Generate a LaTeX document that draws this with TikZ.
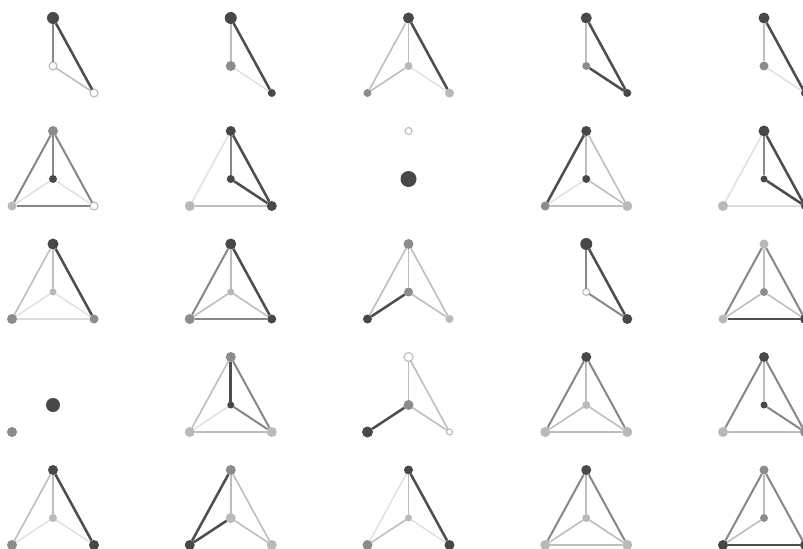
\documentclass[tikz,border=0pt]{standalone}
\usepackage{tikz}
\usetikzlibrary{calc}
\definecolor{vdark}{RGB}{72,72,72}
\definecolor{vmid}{RGB}{140,140,140}
\definecolor{vlight}{RGB}{185,185,185}
\definecolor{edgedark}{RGB}{78,78,78}
\definecolor{edgemid}{RGB}{135,135,135}
\definecolor{edgelight}{RGB}{190,190,190}
\definecolor{edgefaint}{RGB}{222,222,222}

\begin{document}
\begin{tikzpicture}[x=0.75pt, y=-0.75pt,
  vtx/.style={circle, inner sep=0pt, outer sep=0pt, minimum size=#1*1.5pt},
  dk/.style={vtx=#1, fill=vdark},
  md/.style={vtx=#1, fill=vmid},
  lt/.style={vtx=#1, fill=vlight},
  ho/.style={vtx=#1, fill=white, draw=vlight, line width=0.8pt},
  edark/.style={draw=edgedark, line width=1.9pt},
  emid/.style={draw=edgemid, line width=1.5pt},
  elight/.style={draw=edgelight, line width=1.2pt},
  efaint/.style={draw=edgefaint, line width=1pt}]
  \useasboundingbox[fill=white] (0,0) rectangle (803,549);

  % anchor points of every cell: top, centre, left, right
  \foreach \i in {1,...,5}
    \foreach \j in {1,...,5} {
      \coordinate (t\i\j) at ({53+177.75*(\j-1)}, {18+113*(\i-1)});
      \coordinate (c\i\j) at ($(t\i\j)+(0,48)$);
      \coordinate (l\i\j) at ($(t\i\j)+(-41,75)$);
      \coordinate (r\i\j) at ($(t\i\j)+(41,75)$);
    }

  % row 1
  \node[dk=6] (T11) at (t11) {};
  \node[ho=4] (C11) at (c11) {};
  \node[ho=4] (R11) at (r11) {};
  \draw[emid] (T11) -- (C11);
  \draw[edark] (T11) -- (R11);
  \draw[elight] (C11) -- (R11);

  \node[dk=6] (T12) at (t12) {};
  \node[md=5] (C12) at (c12) {};
  \node[dk=4] (R12) at (r12) {};
  \draw[elight] (T12) -- (C12);
  \draw[edark] (T12) -- (R12);
  \draw[efaint] (C12) -- (R12);

  \node[dk=5.5] (T13) at (t13) {};
  \node[lt=4] (C13) at (c13) {};
  \node[md=4] (L13) at (l13) {};
  \node[lt=4.5] (R13) at (r13) {};
  \draw[edark] (T13) -- (R13);
  \draw[elight] (T13) -- (L13);
  \draw[elight] (T13) -- (C13);
  \draw[elight] (C13) -- (L13);
  \draw[efaint] (C13) -- (R13);

  \node[dk=5.5] (T14) at (t14) {};
  \node[md=4] (C14) at (c14) {};
  \node[dk=4] (R14) at (r14) {};
  \draw[elight] (T14) -- (C14);
  \draw[edark] (T14) -- (R14);
  \draw[edark] (C14) -- (R14);

  \node[dk=5.5] (T15) at (t15) {};
  \node[md=4.5] (C15) at (c15) {};
  \node[dk=4] (R15) at (r15) {};
  \draw[elight] (T15) -- (C15);
  \draw[edark] (T15) -- (R15);
  \draw[efaint] (C15) -- (R15);

  % row 2
  \node[md=5] (T21) at (t21) {};
  \node[dk=4] (C21) at (c21) {};
  \node[lt=4.5] (L21) at (l21) {};
  \node[ho=4] (R21) at (r21) {};
  \draw[emid] (T21) -- (C21);
  \draw[emid] (T21) -- (L21);
  \draw[emid] (T21) -- (R21);
  \draw[emid] (L21) -- (R21);
  \draw[efaint] (C21) -- (L21);
  \draw[efaint] (C21) -- (R21);

  \node[dk=5] (T22) at (t22) {};
  \node[dk=4] (C22) at (c22) {};
  \node[lt=5] (L22) at (l22) {};
  \node[dk=5] (R22) at (r22) {};
  \draw[emid] (T22) -- (C22);
  \draw[edark] (T22) -- (R22);
  \draw[edark] (C22) -- (R22);
  \draw[efaint] (T22) -- (L22);
  \draw[elight] (L22) -- (R22);

  \node[ho=3.5] (T23) at (t23) {};
  \node[dk=8] (C23) at (c23) {};

  \node[dk=5] (T24) at (t24) {};
  \node[dk=4] (C24) at (c24) {};
  \node[md=4.5] (L24) at (l24) {};
  \node[lt=5] (R24) at (r24) {};
  \draw[edark] (T24) -- (L24);
  \draw[elight] (T24) -- (C24);
  \draw[elight] (T24) -- (R24);
  \draw[efaint] (C24) -- (L24);
  \draw[elight] (C24) -- (R24);
  \draw[elight] (L24) -- (R24);

  \node[dk=5.5] (T25) at (t25) {};
  \node[dk=3.5] (C25) at (c25) {};
  \node[lt=5] (L25) at (l25) {};
  \node[dk=4] (R25) at (r25) {};
  \draw[emid] (T25) -- (C25);
  \draw[edark] (T25) -- (R25);
  \draw[edark] (C25) -- (R25);
  \draw[efaint] (T25) -- (L25);
  \draw[efaint] (L25) -- (R25);

  % row 3
  \node[dk=5.5] (T31) at (t31) {};
  \node[lt=3.5] (C31) at (c31) {};
  \node[md=5] (L31) at (l31) {};
  \node[md=4.5] (R31) at (r31) {};
  \draw[edark] (T31) -- (R31);
  \draw[elight] (T31) -- (L31);
  \draw[elight] (T31) -- (C31);
  \draw[efaint] (C31) -- (L31);
  \draw[efaint] (C31) -- (R31);
  \draw[efaint] (L31) -- (R31);

  \node[dk=5.5] (T32) at (t32) {};
  \node[lt=3.5] (C32) at (c32) {};
  \node[md=5] (L32) at (l32) {};
  \node[dk=4.5] (R32) at (r32) {};
  \draw[edark] (T32) -- (R32);
  \draw[emid] (T32) -- (L32);
  \draw[elight] (T32) -- (C32);
  \draw[elight] (C32) -- (L32);
  \draw[elight] (C32) -- (R32);
  \draw[emid] (L32) -- (R32);

  \node[md=5] (T33) at (t33) {};
  \node[md=4.5] (C33) at (c33) {};
  \node[dk=4.5] (L33) at (l33) {};
  \node[lt=4] (R33) at (r33) {};
  \draw[edark] (L33) -- (C33);
  \draw[elight] (T33) -- (C33);
  \draw[elight] (T33) -- (L33);
  \draw[elight] (T33) -- (R33);
  \draw[elight] (C33) -- (R33);

  \node[dk=6] (T34) at (t34) {};
  \node[ho=3.5] (C34) at (c34) {};
  \node[dk=5] (R34) at (r34) {};
  \draw[edark] (T34) -- (R34);
  \draw[emid] (T34) -- (C34);
  \draw[emid] (C34) -- (R34);

  \node[lt=4.5] (T35) at (t35) {};
  \node[md=4] (C35) at (c35) {};
  \node[lt=4.5] (L35) at (l35) {};
  \node[dk=5] (R35) at (r35) {};
  \draw[emid] (T35) -- (L35);
  \draw[edark] (L35) -- (R35);
  \draw[emid] (T35) -- (R35);
  \draw[elight] (T35) -- (C35);
  \draw[elight] (C35) -- (L35);
  \draw[elight] (C35) -- (R35);

  % row 4
  \node[dk=7] (C41) at (c41) {};
  \node[md=5] (L41) at (l41) {};

  \node[md=5] (T42) at (t42) {};
  \node[dk=3.5] (C42) at (c42) {};
  \node[lt=5] (L42) at (l42) {};
  \node[lt=5] (R42) at (r42) {};
  \draw[edark] (T42) -- (C42);
  \draw[emid] (T42) -- (R42);
  \draw[emid] (C42) -- (R42);
  \draw[elight] (T42) -- (L42);
  \draw[elight] (L42) -- (R42);
  \draw[efaint] (C42) -- (L42);

  \node[ho=4.5] (T43) at (t43) {};
  \node[md=5] (C43) at (c43) {};
  \node[dk=5.5] (L43) at (l43) {};
  \node[ho=3] (R43) at (r43) {};
  \draw[edark] (C43) -- (L43);
  \draw[elight] (T43) -- (C43);
  \draw[elight] (T43) -- (R43);
  \draw[elight] (C43) -- (R43);

  \node[dk=5] (T44) at (t44) {};
  \node[lt=4] (C44) at (c44) {};
  \node[lt=5] (L44) at (l44) {};
  \node[lt=5] (R44) at (r44) {};
  \draw[emid] (T44) -- (L44);
  \draw[emid] (T44) -- (R44);
  \draw[elight] (T44) -- (C44);
  \draw[elight] (C44) -- (L44);
  \draw[elight] (C44) -- (R44);
  \draw[elight] (L44) -- (R44);

  \node[dk=5] (T45) at (t45) {};
  \node[dk=3.5] (C45) at (c45) {};
  \node[lt=5] (L45) at (l45) {};
  \node[md=5] (R45) at (r45) {};
  \draw[emid] (T45) -- (L45);
  \draw[elight] (T45) -- (C45);
  \draw[emid] (T45) -- (R45);
  \draw[emid] (C45) -- (R45);
  \draw[elight] (L45) -- (R45);

  % row 5
  \node[dk=5] (T51) at (t51) {};
  \node[lt=4] (C51) at (c51) {};
  \node[md=5] (L51) at (l51) {};
  \node[dk=5] (R51) at (r51) {};
  \draw[edark] (T51) -- (R51);
  \draw[elight] (T51) -- (L51);
  \draw[elight] (T51) -- (C51);
  \draw[efaint] (C51) -- (L51);
  \draw[efaint] (C51) -- (R51);

  \node[md=5] (T52) at (t52) {};
  \node[lt=5] (C52) at (c52) {};
  \node[dk=5] (L52) at (l52) {};
  \node[lt=5] (R52) at (r52) {};
  \draw[edark] (T52) -- (L52);
  \draw[edark] (C52) -- (L52);
  \draw[elight] (T52) -- (C52);
  \draw[elight] (T52) -- (R52);
  \draw[elight] (C52) -- (R52);

  \node[dk=4.5] (T53) at (t53) {};
  \node[lt=3.5] (C53) at (c53) {};
  \node[md=5] (L53) at (l53) {};
  \node[dk=5] (R53) at (r53) {};
  \draw[edark] (T53) -- (R53);
  \draw[efaint] (T53) -- (L53);
  \draw[elight] (T53) -- (C53);
  \draw[elight] (C53) -- (L53);
  \draw[efaint] (C53) -- (R53);

  \node[dk=5] (T54) at (t54) {};
  \node[lt=4] (C54) at (c54) {};
  \node[lt=5] (L54) at (l54) {};
  \node[lt=5] (R54) at (r54) {};
  \draw[emid] (T54) -- (L54);
  \draw[emid] (T54) -- (R54);
  \draw[elight] (T54) -- (C54);
  \draw[elight] (C54) -- (L54);
  \draw[elight] (C54) -- (R54);
  \draw[elight] (L54) -- (R54);

  \node[md=4.5] (T55) at (t55) {};
  \node[md=4] (C55) at (c55) {};
  \node[dk=5] (L55) at (l55) {};
  \node[dk=5] (R55) at (r55) {};
  \draw[edark] (L55) -- (R55);
  \draw[emid] (T55) -- (L55);
  \draw[emid] (T55) -- (R55);
  \draw[elight] (T55) -- (C55);
  \draw[elight] (C55) -- (L55);
\end{tikzpicture}
\end{document}
